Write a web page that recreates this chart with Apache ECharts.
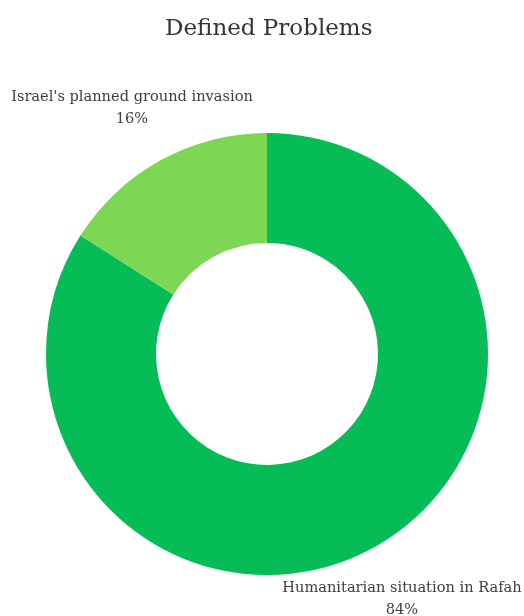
<!DOCTYPE html>
<html>
<head>
<meta charset="utf-8">
<style>
  html, body { margin: 0; padding: 0; background: #ffffff; }
  #chart { width: 524px; height: 616px; }
</style>
<script src="https://cdn.jsdelivr.net/npm/echarts@6/dist/echarts.min.js"></script>
</head>
<body>
<div id="chart"></div>
<script>
// Share of defined problems
const categories = ['Humanitarian situation in Rafah', "Israel's planned ground invasion"];
const shares = [84, 16];
const sliceColors = ['#05BC56', '#7DD755'];

// Where each category's label sits (centre of the two-line block)
const labelSpots = [
  { x: 402, y: 599 },
  { x: 132, y: 108 }
];

const chart = echarts.init(document.getElementById('chart'), null, { renderer: 'canvas' });

const FONT = '"DejaVu Serif", "Liberation Serif", serif';

chart.setOption({
  backgroundColor: '#ffffff',
  animation: false,
  title: {
    text: 'Defined Problems',
    left: 160,
    top: 13,
    textStyle: { fontFamily: FONT, fontSize: 23, fontWeight: 'normal', color: '#333333' }
  },
  series: [{
    type: 'pie',
    center: [267, 354],
    radius: [111, 221],
    startAngle: 90,
    clockwise: true,
    avoidLabelOverlap: false,
    data: categories.map((name, i) => ({
      name: name,
      value: shares[i],
      itemStyle: { color: sliceColors[i] }
    })),
    label: {
      show: true,
      position: 'outside',
      formatter: '{b}\n{d}%',
      fontFamily: FONT,
      fontSize: 14.6,
      lineHeight: 22,
      color: '#3d3d3d',
      align: 'center'
    },
    labelLine: { show: false },
    labelLayout: function (params) {
      const spot = labelSpots[params.dataIndex];
      return { x: spot.x, y: spot.y, align: 'center', verticalAlign: 'middle' };
    },
    emphasis: { disabled: true }
  }]
});
</script>
</body>
</html>
